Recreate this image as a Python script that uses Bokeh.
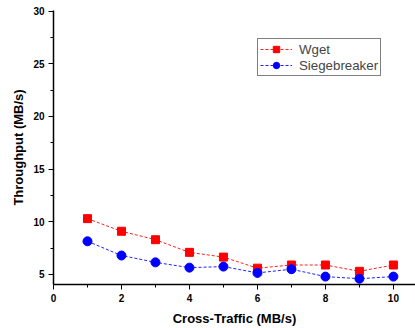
from bokeh.plotting import figure
from bokeh.models import Range1d, Legend, LegendItem, FixedTicker
from bokeh.embed import file_html
from bokeh.resources import INLINE

x_vals = [1, 2, 3, 4, 5, 6, 7, 8, 9, 10]
wget = [10.3, 9.1, 8.3, 7.1, 6.65, 5.6, 5.9, 5.9, 5.3, 5.9]
siege = [8.15, 6.8, 6.15, 5.65, 5.75, 5.15, 5.5, 4.8, 4.6, 4.8]
x_ticks = [0, 2, 4, 6, 8, 10]
y_ticks = [5, 10, 15, 20, 25, 30]

p = figure(width=415, height=328, output_backend="svg", toolbar_location=None,
           x_range=Range1d(0, 10.65), y_range=Range1d(4.05, 30.05),
           min_border_left=53, min_border_right=0, min_border_top=10, min_border_bottom=44)
p.outline_line_color = None
p.xgrid.visible = False
p.ygrid.visible = False
p.background_fill_color = "white"
p.border_fill_color = "white"

FONT = "Liberation Sans"
for ax in (p.xaxis[0], p.yaxis[0]):
    ax.axis_line_width = 1.5
    ax.axis_line_color = "black"
    ax.major_tick_line_color = "black"
    ax.minor_tick_line_color = "black"
    ax.major_tick_line_width = 1
    ax.minor_tick_line_width = 1
    ax.major_tick_out = 5
    ax.major_tick_in = 0
    ax.minor_tick_out = 3
    ax.minor_tick_in = 0
    ax.major_label_text_font = FONT
    ax.major_label_text_font_style = "bold"
    ax.major_label_text_font_size = "10px"
    ax.major_label_text_color = "black"
    ax.axis_label_text_font = FONT
    ax.axis_label_text_font_style = "bold"
    ax.axis_label_text_font_size = "13px"
    ax.axis_label_text_color = "black"

p.xaxis.ticker = FixedTicker(ticks=x_ticks, minor_ticks=[1, 3, 5, 7, 9])
p.yaxis.ticker = FixedTicker(ticks=y_ticks, minor_ticks=[7.5, 12.5, 17.5, 22.5, 27.5])
p.xaxis.axis_label = "Cross-Traffic (MB/s)"
p.yaxis.axis_label = "Throughput (MB/s)"
p.xaxis.major_label_standoff = 4
p.xaxis.axis_label_standoff = 6
p.yaxis.major_label_standoff = 4
p.yaxis.axis_label_standoff = 4

r1l = p.line(x_vals, wget, line_color="#ff2020", line_dash="3 2", line_width=1)
r1m = p.scatter(x_vals, wget, marker="square", size=8, fill_color="#ff0000", line_color="#ff0000")
r2l = p.line(x_vals, siege, line_color="#2020ff", line_dash="3 2", line_width=1)
r2m = p.scatter(x_vals, siege, marker="circle", size=9, fill_color="#0000ff", line_color="#0000ff")

legend = Legend(items=[LegendItem(label="Wget", renderers=[r1l, r1m]),
                       LegendItem(label="Siegebreaker", renderers=[r2l, r2m])],
                location=(204, 208))
legend.border_line_color = "black"
legend.border_line_width = 1
legend.label_text_font = FONT
legend.label_text_font_size = "13.3px"
legend.label_height = 16
legend.glyph_height = 16
legend.glyph_width = 32
legend.spacing = 0
legend.padding = 2
legend.margin = 0
legend.label_standoff = 7
legend.background_fill_alpha = 1
p.add_layout(legend)

open("out.html", "w").write(file_html(p, INLINE))
